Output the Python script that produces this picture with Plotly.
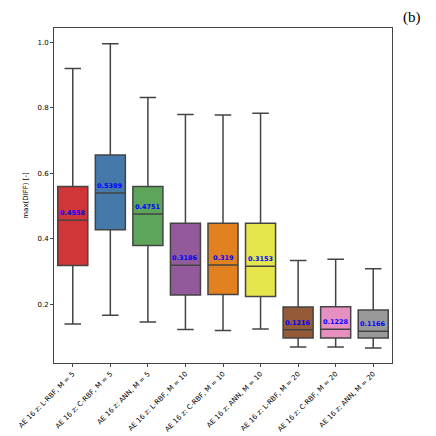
import plotly.graph_objects as go

# Data
# -----------------------------
labels = ['AE 16 z: L-RBF, M = 5', 'AE 16 z: C-RBF, M = 5', 'AE 16 z: ANN, M = 5',
          'AE 16 z: L-RBF, M = 10', 'AE 16 z: C-RBF, M = 10', 'AE 16 z: ANN, M = 10',
          'AE 16 z: L-RBF, M = 20', 'AE 16 z: C-RBF, M = 20', 'AE 16 z: ANN, M = 20']
lower = [0.139, 0.166, 0.145, 0.122, 0.119, 0.124, 0.069, 0.069, 0.066]
q1 = [0.318, 0.427, 0.379, 0.2275, 0.229, 0.223, 0.096, 0.096, 0.096]
median = [0.4558, 0.5389, 0.4751, 0.3186, 0.319, 0.3153, 0.1216, 0.1228, 0.1166]
q3 = [0.559, 0.655, 0.559, 0.447, 0.447, 0.447, 0.191, 0.192, 0.182]
upper = [0.919, 0.995, 0.831, 0.779, 0.777, 0.783, 0.333, 0.337, 0.308]
colors = ['#d03537', '#4479aa', '#5ca55a', '#925a9b', '#e1811f',
          '#e6e54c', '#955a37', '#e78fc0', '#999999']

yticks = [0.2, 0.4, 0.6, 0.8, 1.0]

fig = go.Figure()
for i, lab in enumerate(labels):
    fig.add_trace(go.Box(
        x=[lab], q1=[q1[i]], median=[median[i]], q3=[q3[i]],
        lowerfence=[lower[i]], upperfence=[upper[i]],
        fillcolor=colors[i], line=dict(color='#444444', width=1.5),
        width=0.8, whiskerwidth=0.55, boxpoints=False,
        hoverinfo='skip', showlegend=False))
    fig.add_annotation(x=lab, y=median[i], text='<b>%s</b>' % median[i],
                       showarrow=False, yshift=7,
                       font=dict(family='DejaVu Sans', size=6.5, color='blue'))

# panel letter
fig.add_annotation(xref='paper', yref='paper', x=1.059, y=1.03,
                   text='(b)', showarrow=False, xanchor='center', yanchor='middle',
                   font=dict(family='Liberation Serif', size=15, color='black'))

# the page body adds an 8 px margin, so the figure is shrunk and margins shifted
fig.update_layout(
    width=420, height=428,
    margin=dict(l=46, r=36, t=20, b=73),
    paper_bgcolor='white', plot_bgcolor='white',
    boxmode='overlay',
    font=dict(family='DejaVu Sans', size=7, color='black'),
    xaxis=dict(categoryorder='array', categoryarray=labels, automargin=False,
               range=[-0.5, 8.5], tickangle=-45, ticks='outside', ticklen=3,
               tickcolor='#444', showline=True, linecolor='#444', linewidth=1,
               mirror=True, showgrid=False,
               tickfont=dict(size=7, color='black')),
    yaxis=dict(range=[0.02, 1.043], tickvals=yticks, automargin=False,
               ticktext=['%.1f' % v for v in yticks],
               ticks='outside', ticklen=3, tickcolor='#444',
               showline=True, linecolor='#444', linewidth=1, mirror=True,
               showgrid=False, zeroline=False,
               tickfont=dict(size=7, color='black'),
               title=dict(text='max(DIFF) [-]', font=dict(size=7), standoff=8)),
)

fig.write_html('out.html')
